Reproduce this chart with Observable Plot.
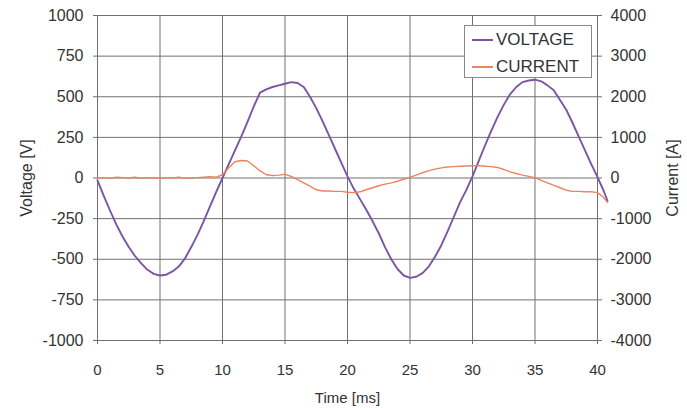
<!DOCTYPE html>
<html><head><meta charset="utf-8">
<script src="https://cdn.jsdelivr.net/npm/d3@7"></script>
<script src="https://cdn.jsdelivr.net/npm/@observablehq/plot@0.6"></script>
<style>
body{margin:0;background:#fff;}
#wrap{position:relative;width:687px;height:408px;font-family:"Liberation Sans",Arial,sans-serif;}
#legend{position:absolute;left:464px;top:25px;width:126px;height:51px;border:1px solid #888;background:#fff;font-size:17px;color:#333;}
.row{position:absolute;left:7px;height:18px;display:flex;align-items:center;}
.sw{width:21px;height:0;border-top:2px solid;margin-right:3px;}
</style></head>
<body><div id="wrap"></div>
<script>
const time = [0,0.5,1,1.5,2,2.5,3,3.5,4,4.5,5,5.5,6,6.5,7,7.5,8,8.5,9,9.5,10,10.5,11,11.5,12,12.5,13,13.5,14,14.5,15,15.5,16,16.5,17,17.5,18,18.5,19,19.5,20,20.5,21,21.5,22,22.5,23,23.5,24,24.5,25,25.5,26,26.5,27,27.5,28,28.5,29,29.5,30,30.5,31,31.5,32,32.5,33,33.5,34,34.5,35,35.5,36,36.5,37,37.5,38,38.5,39,39.5,40,40.5,40.8];
const voltage = [-15,-110,-200,-285,-360,-425,-480,-525,-565,-590,
  -600,-595,-575,-545,-495,-425,-350,-265,-175,-85,
  0,85,170,255,345,440,525,545,560,570,
  580,590,585,560,500,430,350,265,180,95,
  10,-65,-130,-195,-265,-340,-425,-500,-560,-600,
  -615,-608,-585,-545,-485,-415,-330,-240,-150,-75,
  10,105,200,290,375,450,515,560,590,600,
  605,595,570,540,480,420,340,255,170,85,
  5,-80,-140];
const current = [0,10,-10,20,10,0,20,-10,10,0,
  -10,10,0,20,-10,0,10,20,30,20,
  80,250,400,430,420,300,180,80,60,70,
  90,40,-40,-120,-200,-290,-320,-320,-330,-330,
  -350,-360,-340,-290,-240,-190,-150,-120,-80,-30,
  20,70,130,180,220,250,270,280,290,295,
  300,300,290,280,260,210,150,110,70,40,
  10,-60,-120,-180,-240,-300,-330,-330,-340,-340,
  -360,-480,-600];
const xTicks = [0,5,10,15,20,25,30,35,40];
const voltageTicks = [-1000,-750,-500,-250,0,250,500,750,1000];
const voltageTickLabels = ["-1000","-750","-500","-250","0","250","500","750","1000"];
const currentTickLabels = ["-4000","-3000","-2000","-1000","0","1000","2000","3000","4000"];
const seriesNames = ["VOLTAGE","CURRENT"];
const colors = {VOLTAGE:"#7b55a3", CURRENT:"#e9855f"};
const ratio = 4; // current axis spans 4x voltage axis

const rows = time.map((t,i)=>({t, v: voltage[i], c: current[i] / ratio}));
const grid = "#707070";
const chart = Plot.plot({
  width: 687, height: 408,
  marginLeft: 97, marginRight: 90, marginTop: 15, marginBottom: 68,
  style: {fontFamily: "Liberation Sans, Arial, sans-serif", fontSize: "16px", color: "#333", background: "#fff"},
  x: {domain: [0,40]},
  y: {domain: [-1000,1000]},
  marks: [
    Plot.gridX(xTicks, {stroke: grid, strokeOpacity: 1}),
    Plot.gridY(voltageTicks, {stroke: grid, strokeOpacity: 1}),
    Plot.axisX(xTicks, {tickSize: 4, tickPadding: 20, stroke: grid, tickFormat: d => String(d),
      label: "Time [ms]", labelAnchor: "center", labelArrow: "none", labelOffset: 62, fontSize: 15}),
    Plot.axisY(voltageTicks, {anchor: "left", tickSize: 4, tickPadding: 10, stroke: grid,
      tickFormat: d => voltageTickLabels[voltageTicks.indexOf(d)],
      label: "Voltage [V]", labelAnchor: "center", labelArrow: "none", labelOffset: 77}),
    Plot.axisY(voltageTicks, {anchor: "right", tickSize: 4, tickPadding: 9, stroke: grid,
      tickFormat: d => currentTickLabels[voltageTicks.indexOf(d)],
      label: "Current [A]", labelAnchor: "center", labelArrow: "none", labelOffset: 80}),
    Plot.line(rows, {x: "t", y: "v", stroke: colors.VOLTAGE, strokeWidth: 1.9}),
    Plot.line(rows, {x: "t", y: "c", stroke: colors.CURRENT, strokeWidth: 1.4})
  ]
});
const wrap = document.getElementById("wrap");
wrap.appendChild(chart);
const legend = document.createElement("div");
legend.id = "legend";
seriesNames.forEach((name, i) => {
  const r = document.createElement("div");
  r.className = "row";
  r.style.top = (5 + i * 27) + "px";
  r.innerHTML = `<span class="sw" style="border-color:${colors[name]}"></span><span>${name}</span>`;
  legend.appendChild(r);
});
wrap.appendChild(legend);
</script></body></html>
